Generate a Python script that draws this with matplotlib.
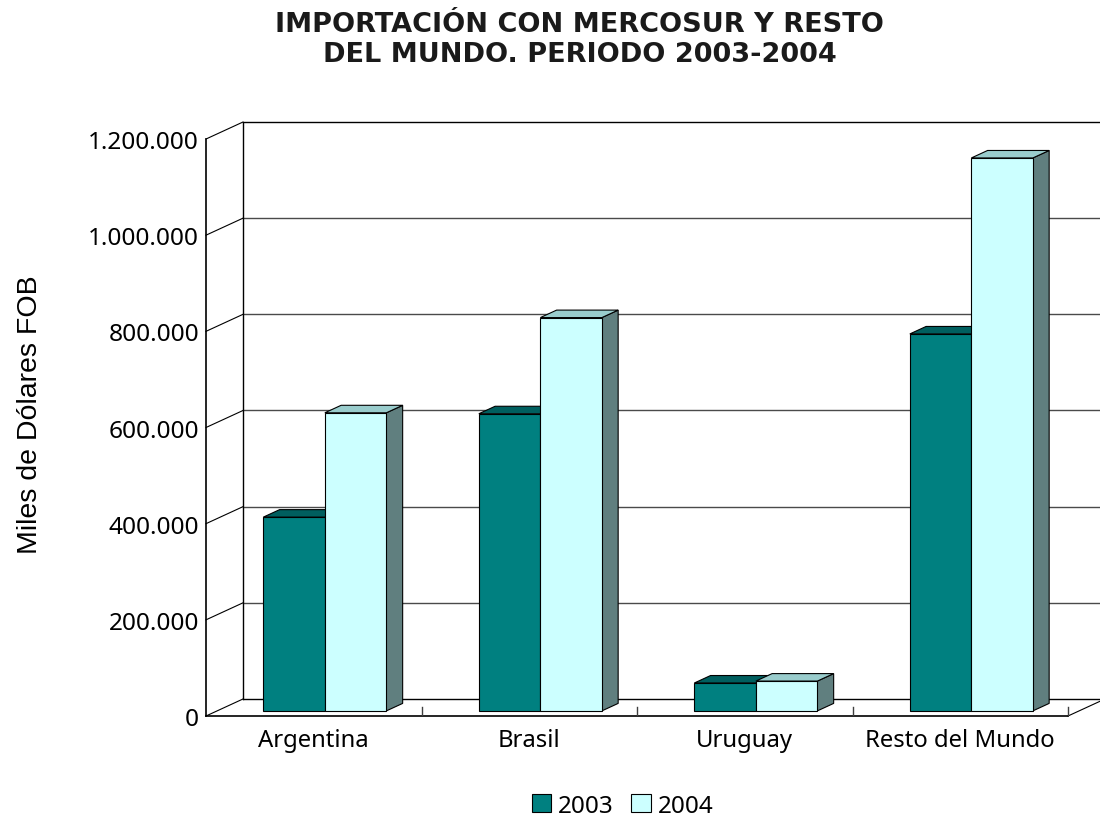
import matplotlib
matplotlib.use("Agg")
from matplotlib import pyplot as plt
from matplotlib.patches import Patch

# Chart data (miles de dolares FOB)
categories = ["Argentina", "Brasil", "Uruguay", "Resto del Mundo"]
years = ["2003", "2004"]
values_2003 = [403000, 618000, 58000, 784000]
values_2004 = [620000, 818000, 62000, 1150000]
yticks = [0, 200000, 400000, 600000, 800000, 1000000, 1200000]
ytick_labels = ["0", "200.000", "400.000", "600.000", "800.000", "1.000.000", "1.200.000"]

# colours: front, top, side
c2003 = ("#008080", "#005f5f", "#004040")
c2004 = ("#ccffff", "#99cccc", "#607f7f")

# pseudo 3D depth offset in data units
DX = 0.1717
DY = 35400
YMAX = 1200000
f0 = 0.30  # depth where the bar front sits
fb = 0.44  # depth of the bar
bw = 0.2855

fig = plt.figure(figsize=(11, 8.2), dpi=100)
ax = fig.add_axes([206 / 1100, 103 / 820, 894 / 1100, 594 / 820])
ax.set_xlim(0, 894 / 215.5)
ax.set_ylim(0, YMAX + DY)
for s in ax.spines.values():
    s.set_visible(False)

# back wall gridlines + left wall diagonals
for v in yticks:
    ax.plot([DX, 894 / 215.5], [v + DY, v + DY], color="#4a4a4a" if v not in (0, YMAX) else "black", lw=1, clip_on=False)
    ax.plot([0, DX], [v, v + DY], color="black", lw=0.8, clip_on=False)
ax.plot([DX, DX], [DY, YMAX + DY], color="black", lw=1)
ax.plot([0, 0], [0, YMAX], color="black", lw=1.2, clip_on=False)
# floor
n = len(categories)
ax.plot([0, n], [0, 0], color="black", lw=1.2, clip_on=False)
ax.plot([n, n + DX], [0, DY], color="black", lw=0.8, clip_on=False)
for i in range(1, n + 1):
    ax.plot([i, i], [0, 19000], color="#404040", lw=1)


def bar3d(x, v, cols, z):
    sx, sy = f0 * DX, f0 * DY
    x0 = x - bw / 2 + sx
    ddx, ddy = fb * DX, fb * DY
    # side
    ax.fill([x0 + bw, x0 + bw + ddx, x0 + bw + ddx, x0 + bw],
            [sy, sy + ddy, sy + v + ddy, sy + v], color=cols[2], ec="black", lw=0.8, zorder=z)
    # top
    ax.fill([x0, x0 + bw, x0 + bw + ddx, x0 + ddx],
            [sy + v, sy + v, sy + v + ddy, sy + v + ddy], color=cols[1], ec="black", lw=0.8, zorder=z)
    ax.bar(x + sx, v, width=bw, bottom=sy, color=cols[0], edgecolor="black", lw=0.8, zorder=z + 0.5)


for i in range(n):
    bar3d(i + 0.5 - bw / 2, values_2003[i], c2003, 3 + i)
    bar3d(i + 0.5 + bw / 2, values_2004[i], c2004, 3.6 + i)

ax.set_yticks(yticks, ytick_labels, fontfamily="Noto Sans", fontsize=17.6)
ax.set_xticks([i + 0.5 for i in range(n)], categories, fontfamily="Noto Sans", fontsize=17.2)
ax.tick_params(axis="y", length=0, pad=5)
ax.tick_params(axis="x", length=0, pad=9)

fig.text(0.527, 1 - 12 / 820, "IMPORTACIÓN CON MERCOSUR Y RESTO\nDEL MUNDO. PERIODO 2003-2004",
         ha="center", va="top", fontsize=19.5, fontweight="bold", family="DejaVu Sans",
         color="#1a1a1a", linespacing=1.2)
fig.text(30 / 1100, 1 - 415 / 820, "Miles de Dólares FOB", rotation=90, ha="center", va="center",
         fontsize=20.5, family="Liberation Sans")

handles = [Patch(facecolor=c2003[0], edgecolor="black", lw=0.8),
           Patch(facecolor=c2004[0], edgecolor="black", lw=0.8)]
fig.legend(handles, years, loc="lower center", bbox_to_anchor=(0.566, -0.025), ncol=2, frameon=False,
           prop={"family": "Noto Sans", "size": 17.5}, handlelength=0.8, handleheight=0.8,
           handletextpad=0.3, columnspacing=0.7)

fig.savefig("out.png", dpi=100)
